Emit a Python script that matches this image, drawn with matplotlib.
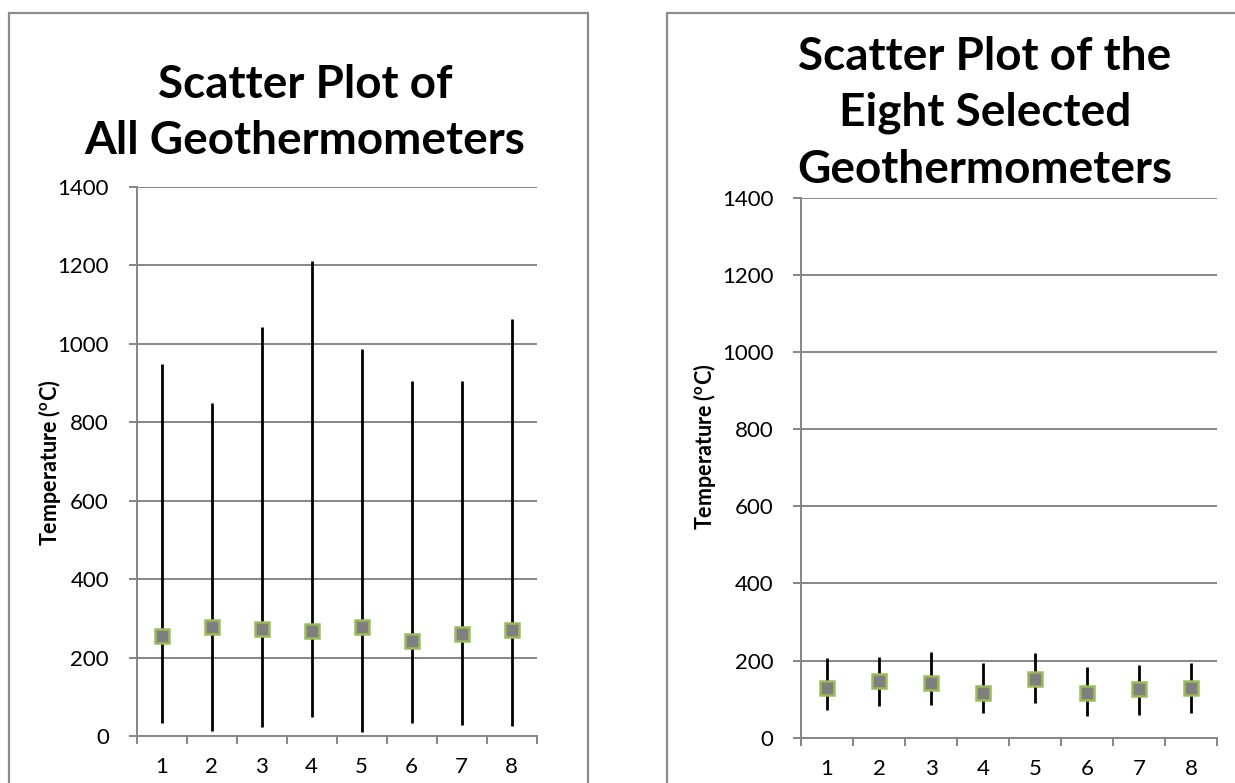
import matplotlib
matplotlib.use('Agg')
import matplotlib.pyplot as plt
from matplotlib.patches import Rectangle

plt.rcParams['font.family'] = ['Lato', 'DejaVu Sans']
plt.rcParams['mathtext.fontset'] = 'custom'
plt.rcParams['mathtext.rm'] = 'Lato'
plt.rcParams['mathtext.bf'] = 'Lato:bold'

categories = [1, 2, 3, 4, 5, 6, 7, 8]

# all geothermometers
all_mid = [254, 279, 274, 267, 277, 243, 260, 271]
all_low = [34, 13, 22, 49, 11, 34, 29, 26]
all_high = [949, 850, 1042, 1211, 987, 905, 905, 1064]

# eight selected geothermometers
sel_mid = [128, 146, 143, 117, 153, 115, 125, 129]
sel_low = [73, 82, 84, 64, 91, 55, 60, 65]
sel_high = [206, 209, 223, 193, 219, 183, 188, 193]

yticks = [0, 200, 400, 600, 800, 1000, 1200, 1400]

W, H = 1235, 783
fig = plt.figure(figsize=(W / 100, H / 100), dpi=100)


def px(x, y):
    return x / W, 1 - y / H


# chart frames (bottom edge lies outside the picture)
for x0, x1 in [(9, 588), (667, 1300)]:
    fig.patches.append(Rectangle(px(x0, 900), (x1 - x0) / W, (900 - 13) / H,
                                 transform=fig.transFigure, fill=False,
                                 edgecolor='#8c8c8c', linewidth=1.6, zorder=0))

grid_c = '#868686'


def draw(ax, mid, low, high):
    ax.vlines(categories, low, high, colors='black', linewidth=2, zorder=2)
    ax.plot(categories, mid, linestyle='none', marker='s', markersize=10.5,
            markerfacecolor='#7f7f7f', markeredgecolor='#9bbb59',
            markeredgewidth=1.8, zorder=3)
    ax.set_xlim(0.5, 8.5)
    ax.set_ylim(0, 1400)
    ax.set_yticks(yticks)
    ax.set_xticks([c - 0.5 for c in categories] + [8.5])
    ax.set_xticklabels([])
    ax.set_xticks(categories, minor=True)
    ax.set_xticklabels([str(c) for c in categories], minor=True)
    ax.tick_params(axis='x', which='minor', length=0, labelsize=16, pad=15)
    ax.tick_params(axis='x', which='major', length=6, width=1.4,
                   color=grid_c, direction='out')
    ax.tick_params(axis='y', length=6, width=1.4, color=grid_c,
                   labelsize=16, pad=14)
    ax.grid(axis='y', color=grid_c, linewidth=1.4, zorder=0)
    for s in ['top', 'right']:
        ax.spines[s].set_visible(False)
    for s in ['left', 'bottom']:
        ax.spines[s].set_color(grid_c)
        ax.spines[s].set_linewidth(1.4)
    ax.set_axisbelow(True)


ax1 = fig.add_axes([136.7 / W, 1 - 736 / H, 400 / W, 549 / H])
draw(ax1, all_mid, all_low, all_high)
ax2 = fig.add_axes([801 / W, 1 - 737.7 / H, 416 / W, 540 / H])
draw(ax2, sel_mid, sel_low, sel_high)

title_kw = dict(ha='center', va='center', fontsize=33, fontweight='bold')
fig.text(*px(305, 85), 'Scatter Plot of', **title_kw)
fig.text(*px(305, 141), 'All Geothermometers', **title_kw)
fig.text(*px(985, 57), 'Scatter Plot of the', **title_kw)
fig.text(*px(985, 113), 'Eight Selected', **title_kw)
fig.text(*px(985, 170), 'Geothermometers', **title_kw)

ylab = r'Temperature ($\mathbf{^o}$C)'
fig.text(*px(50, 463), ylab, rotation=90, ha='center', va='center',
         fontsize=15.5, fontweight='bold')
fig.text(*px(704, 447), ylab, rotation=90, ha='center', va='center',
         fontsize=15.5, fontweight='bold')

fig.savefig('out.png', dpi=100)
